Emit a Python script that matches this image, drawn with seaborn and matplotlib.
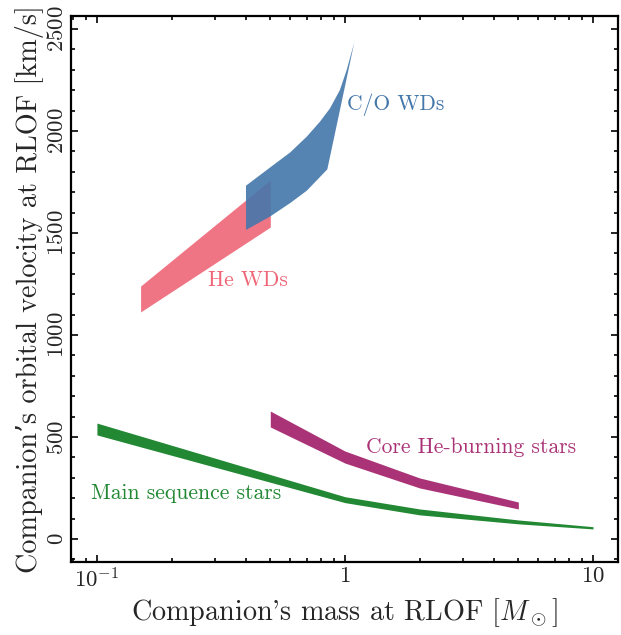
import matplotlib
matplotlib.use("Agg")
import matplotlib.pyplot as plt
import seaborn as sns

# companion mass [Msun] and orbital velocity band [km/s]
ms_mass = [0.1, 1.0, 2.0, 5.0, 10.0]
ms_lo = [510, 178, 118, 74, 49]
ms_hi = [568, 207, 147, 93, 60]

chb_mass = [0.5, 1.0, 2.0, 5.0]
chb_lo = [549, 372, 250, 147]
chb_hi = [627, 431, 299, 181]

hewd_mass = [0.15, 0.5]
hewd_lo = [1113, 1529]
hewd_hi = [1240, 1760]

# C/O WD region outline: upper edge then lower edge back
cowd_top_mass = [0.399, 0.514, 0.600, 0.701, 0.793, 0.870, 0.954, 1.016, 1.090]
cowd_top_v = [1732, 1833, 1894, 1972, 2046, 2111, 2201, 2299, 2433]
cowd_bot_mass = [0.849, 0.701, 0.600, 0.498, 0.399]
cowd_bot_v = [1812, 1707, 1646, 1580, 1515]

xticks = [0.1, 1, 10]
xticklabels = [r"$10^{-1}$", r"$1$", r"$10$"]

blue = "#4477AA"
red = "#EE6677"
green = "#228833"
purple = "#AA3377"

sns.set_theme(style="ticks")
plt.rcParams["font.family"] = ["cmr10", "DejaVu Serif"]
plt.rcParams["mathtext.fontset"] = "cm"
plt.rcParams["axes.formatter.use_mathtext"] = True
plt.rcParams["axes.unicode_minus"] = False

fig = plt.figure(figsize=(6.21, 6.35), dpi=100)
ax = fig.add_axes([0.1143, 0.115, 0.995 - 0.1143, 0.9748 - 0.115])

ax.fill_between(ms_mass, ms_lo, ms_hi, color=green, lw=0)
ax.fill_between(chb_mass, chb_lo, chb_hi, color=purple, lw=0)
ax.fill_between(hewd_mass, hewd_lo, hewd_hi, color=red, alpha=0.9, lw=0)
ax.fill(cowd_top_mass + cowd_bot_mass, cowd_top_v + cowd_bot_v,
        color=blue, alpha=0.9, lw=0)

fs = 15.5
ax.text(0.095, 225, "Main sequence stars", color=green, fontsize=fs,
        ha="left", va="center")
ax.text(1.22, 450, "Core He-burning stars", color=purple, fontsize=fs,
        ha="left", va="center")
ax.text(0.28, 1270, "He WDs", color=red, fontsize=fs, ha="left", va="center")
ax.text(1.02, 2130, "C/O WDs", color=blue, fontsize=fs, ha="left", va="center")

ax.set_xscale("log")
ax.set_xlim(0.0786, 12.6)
ax.set_ylim(-113, 2564)
ax.set_xticks(xticks)
ax.set_xticklabels(xticklabels)
ax.yaxis.set_major_locator(plt.MultipleLocator(500))
ax.yaxis.set_minor_locator(plt.MultipleLocator(100))

ax.tick_params(which="both", direction="in", top=True, right=True,
               labelsize=16.5, width=1.2, color="black")
ax.tick_params(which="major", length=5)
ax.tick_params(which="minor", length=3)
ax.tick_params(axis="y", labelrotation=90, pad=3)
for lab in ax.get_yticklabels():
    lab.set_va("center")
for sp in ax.spines.values():
    sp.set_linewidth(1.6)
    sp.set_color("black")

ax.set_xlabel(r"Companion's mass at RLOF [$M_\odot$]", fontsize=20.3)
ax.set_ylabel("Companion’s orbital velocity at RLOF [km/s]", fontsize=20.3,
              labelpad=2)

fig.savefig("out.png", dpi=100)
